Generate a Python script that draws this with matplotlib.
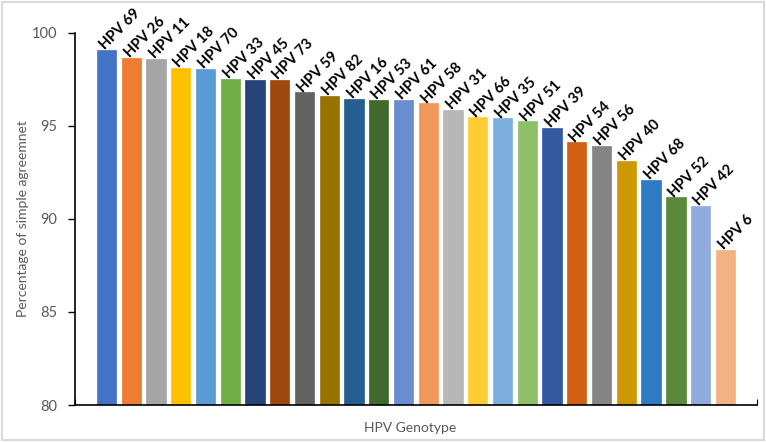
import matplotlib
matplotlib.use("Agg")
import matplotlib.pyplot as plt
from matplotlib.patches import Rectangle

genotypes = ["HPV 69", "HPV 26", "HPV 11", "HPV 18", "HPV 70", "HPV 33", "HPV 45", "HPV 73",
             "HPV 59", "HPV 82", "HPV 16", "HPV 53", "HPV 61", "HPV 58", "HPV 31", "HPV 66",
             "HPV 35", "HPV 51", "HPV 39", "HPV 54", "HPV 56", "HPV 40", "HPV 68", "HPV 52",
             "HPV 42", "HPV 6"]
agreement = [99.09, 98.67, 98.62, 98.14, 98.06, 97.54, 97.47, 97.47,
             96.81, 96.61, 96.47, 96.40, 96.40, 96.22, 95.86, 95.47,
             95.41, 95.25, 94.90, 94.12, 93.92, 93.12, 92.11, 91.17,
             90.70, 88.35]
colors = ["#4472C4", "#ED7D31", "#A5A5A5", "#FFC000", "#5B9BD5", "#70AD47", "#264478", "#9E480E",
          "#636363", "#997300", "#255E91", "#43682B", "#698ED0", "#F1975A", "#B7B7B7", "#FFCD33",
          "#7CAFDD", "#8CC168", "#335AA1", "#D26012", "#848484", "#CC9A00", "#2E7BC4", "#5A8A39",
          "#8FAADC", "#F4B183"]
y_ticks = [80, 85, 90, 95, 100]

plt.rcParams['font.family'] = ['Lato', 'DejaVu Sans']

fig = plt.figure(figsize=(7.66, 4.42), dpi=100)
fig.patch.set_facecolor("white")
fig.add_artist(Rectangle((0.003, 0.004), 0.994, 0.992, transform=fig.transFigure,
                         fill=False, edgecolor="#D9D9D9", linewidth=1.5))

ax = fig.add_axes([0.098, 0.0837, 0.890, 0.8417])
x = list(range(len(genotypes)))
ax.bar(x, [v - 80 for v in agreement], bottom=80, width=0.78, color=colors,
       edgecolor=colors, linewidth=0.5)

for xi, v, lab in zip(x, agreement, genotypes):
    ax.text(xi - 0.06, v - 0.02, lab, rotation=45, rotation_mode="anchor",
            ha="left", va="baseline",
            fontsize=10.5, fontweight="bold", color="black")

ax.set_ylim(80, 100)
ax.set_xlim(-1.27, len(genotypes) - 1 + 1.27)
ax.set_yticks(y_ticks)
ax.set_yticklabels([str(t) for t in y_ticks])
ax.set_xticks([-1.27, len(genotypes) - 1 + 1.27])
ax.set_xticklabels(["", ""])
ax.tick_params(axis="x", direction="in", length=4, color="black")
ax.tick_params(axis="y", direction="out", length=5, width=1, pad=8, labelsize=10.5,
               labelcolor="#595959", color="black")

for s in ["top", "right"]:
    ax.spines[s].set_visible(False)
ax.spines["left"].set_color("black")
ax.spines["bottom"].set_color("black")
ax.spines["left"].set_linewidth(1.2)
ax.spines["bottom"].set_linewidth(1.2)

fig.text(0.535, 0.032, "HPV Genotype", ha="center", va="center", fontsize=10, color="#595959")
fig.text(0.030, 0.505, "Percentage of simple agreemnet", ha="center", va="center",
         rotation=90, fontsize=10, color="#595959")

fig.savefig("out.png", dpi=100, facecolor="white")
